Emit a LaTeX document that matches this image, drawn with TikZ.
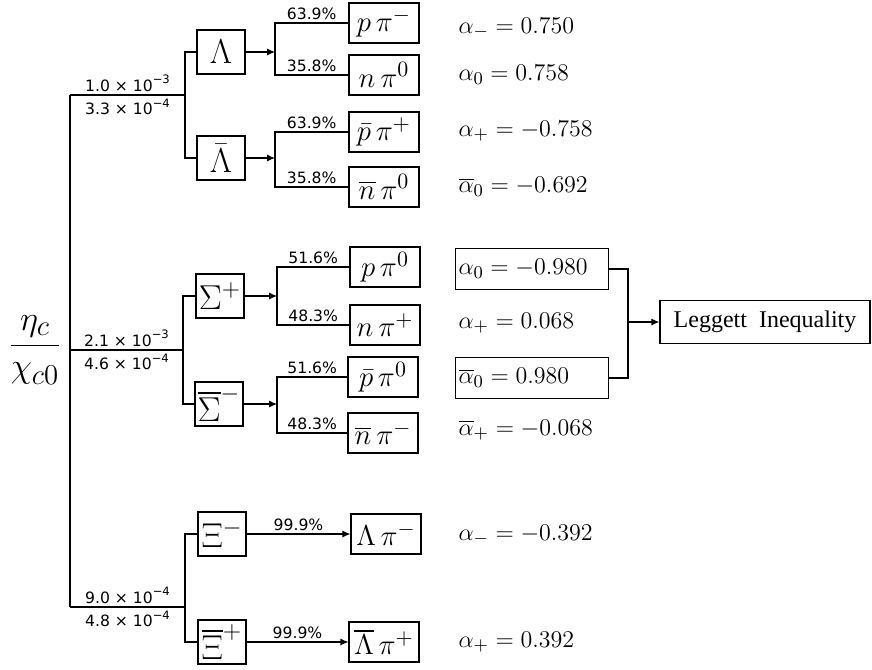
\documentclass[tikz,border=0pt]{standalone}
\usepackage{amsmath}
\usepackage{fontspec}
\usepackage{tikz}
\usetikzlibrary{arrows.meta}
\newfontfamily\sansklein{DejaVu Sans}
\newfontfamily\timesschrift{Liberation Serif}
\newcommand{\hoch}[1]{\raisebox{3.8pt}{\fontsize{5.8}{6}\selectfont #1}}

\begin{document}
\begin{tikzpicture}[x=0.5pt,y=-0.5pt,line width=0.6pt,>={Latex[length=4pt,width=3.6pt]},
  teilchen/.style={draw,inner sep=1pt,minimum width=24pt,minimum height=22pt,font=\fontsize{17.5}{20}\selectfont},
  produkt/.style={draw,inner sep=1pt,minimum width=35pt,minimum height=20pt,font=\fontsize{15.5}{18}\selectfont},
  asym/.style={anchor=west,inner sep=1.5pt,font=\fontsize{13}{15}\selectfont},
  asymbox/.style={asym,draw,text width=73.5pt,minimum height=20.5pt},
  anteil/.style={font=\sansklein\fontsize{7.8}{9}\selectfont,inner sep=1.5pt},
  prozent/.style={anteil,above,pos=0.75}]
\useasboundingbox (0,0) rectangle (872,669);

%Mutterteilchen und Verzweigungen
\node (eta) at (35,350) {\fontsize{19}{22}\selectfont$\dfrac{\eta_c}{\chi_{c0}}$};
\coordinate (s0) at (70,95);
\coordinate (s1) at (70,350);
\coordinate (s2) at (70,607);
\coordinate (g0) at (185,95);
\coordinate (g1) at (183,350);
\coordinate (g2) at (185,607);

\draw (s0) -- (s2);
\draw (s0) -- node[anteil,above]{1.0 × 10\hoch{−3}} node[anteil,below]{3.3 × 10\hoch{−4}} (g0);
\draw (s1) -- node[anteil,above]{2.1 × 10\hoch{−3}} node[anteil,below]{4.6 × 10\hoch{−4}} (g1);
\draw (s2) -- node[anteil,above]{9.0 × 10\hoch{−4}} node[anteil,below]{4.8 × 10\hoch{−4}} (g2);

%Hyperonen
\node[teilchen] (L)  at (221,52)  {$\Lambda$};
\node[teilchen] (Lb) at (221,158) {$\bar{\Lambda}$};
\node[teilchen] (Sp) at (220,296) {$\Sigma^+$};
\node[teilchen] (Sm) at (219,404) {$\overline{\Sigma}^-$};
\node[teilchen] (Xm) at (222,534) {$\Xi^-$};
\node[teilchen] (Xp) at (222,642) {$\overline{\Xi}^+$};

\draw (L) -| (g0) |- (Lb);
\draw (Sp) -| (g1) |- (Sm);
\draw (Xm) -| (g2) |- (Xp);

%Zerfallskanaele
\node[produkt] (ppi)   at (384,23)  {$p\,\pi^-$};
\node[produkt] (npi)   at (384,75)  {$n\,\pi^0$};
\node[produkt] (pbpi)  at (384,132) {$\bar{p}\,\pi^+$};
\node[produkt] (nbpi)  at (384,187) {$\overline{n}\,\pi^0$};
\node[produkt] (ppi0)  at (385,267) {$p\,\pi^0$};
\node[produkt] (npip)  at (385,325) {$n\,\pi^+$};
\node[produkt] (pbpi0) at (383,377) {$\bar{p}\,\pi^0$};
\node[produkt] (nbpim) at (383,433) {$\overline{n}\,\pi^-$};
\node[produkt] (Lpi)   at (386,534) {$\Lambda\,\pi^-$};
\node[produkt] (Lbpi)  at (384,642) {$\overline{\Lambda}\,\pi^+$};

\coordinate (d0) at (275,52);
\coordinate (d1) at (275,158);
\coordinate (d2) at (277,296);
\coordinate (d3) at (277,404);

\draw[->] (L) -- (d0);
\draw[->] (Lb) -- (d1);
\draw[->] (Sp) -- (d2);
\draw[->] (Sm) -- (d3);
\draw (d0) |- node[prozent]{63.9\%} (ppi);
\draw (d0) |- node[prozent]{35.8\%} (npi);
\draw (d1) |- node[prozent]{63.9\%} (pbpi);
\draw (d1) |- node[prozent]{35.8\%} (nbpi);
\draw (d2) |- node[prozent]{51.6\%} (ppi0);
\draw (d2) |- node[prozent]{48.3\%} (npip);
\draw (d3) |- node[prozent]{51.6\%} (pbpi0);
\draw (d3) |- node[prozent]{48.3\%} (nbpim);
\draw[->] (Xm) -- node[anteil,above]{99.9\%} (Lpi);
\draw[->] (Xp) -- node[anteil,above]{99.9\%} (Lbpi);

%Asymmetrieparameter
\node[asym] (a1) at (455,28)  {$\alpha_- = 0.750$};
\node[asym] (a2) at (455,75)  {$\alpha_0 = 0.758$};
\node[asym] (a3) at (455,131) {$\alpha_+ = -0.758$};
\node[asym] (a4) at (455,187) {$\overline{\alpha}_0 = -0.692$};
\node[asymbox] (a5) at (455,269) {$\alpha_0 = -0.980$};
\node[asym] (a6) at (455,323) {$\alpha_+ = 0.068$};
\node[asymbox] (a7) at (455,378) {$\overline{\alpha}_0 = 0.980$};
\node[asym] (a8) at (455,430) {$\overline{\alpha}_+ = -0.068$};
\node[asym] (a9) at (455,535) {$\alpha_- = -0.392$};
\node[asym] (a10) at (455,642) {$\alpha_+ = 0.392$};

\node[draw,minimum width=105pt,minimum height=21.5pt,inner sep=1pt,font=\timesschrift\fontsize{12}{14}\selectfont] (LI) at (765,322) {Leggett\ \ Inequality};
\coordinate (lg) at (628,322);
\draw (a5) -| (lg) |- (a7);
\draw[->] (lg) -- (LI);
\end{tikzpicture}
\end{document}
